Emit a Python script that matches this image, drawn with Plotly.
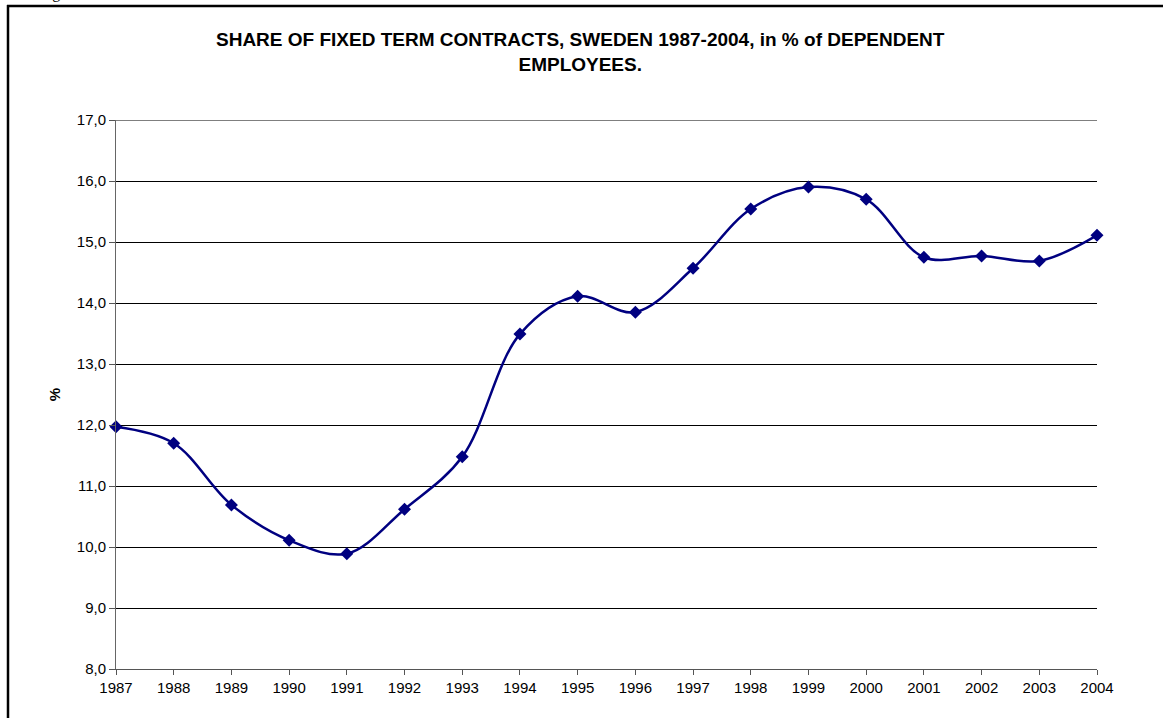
import plotly.graph_objects as go

years = list(range(1987, 2005))
share = [11.97, 11.70, 10.69, 10.11, 9.89, 10.62, 11.48, 13.49, 14.11, 13.85,
         14.57, 15.54, 15.90, 15.70, 14.75, 14.77, 14.69, 15.11]
tick_labels = [str(y) for y in years]
title_text = "SHARE OF FIXED TERM CONTRACTS, SWEDEN 1987-2004, in % of DEPENDENT<br>EMPLOYEES."

W, H = 1163, 718
L, R, T, B = 116, 1097, 120, 669


def px(x):
    return (x - L) / (R - L)


def py(y):
    return (B - y) / (B - T)


fig = go.Figure()
fig.add_trace(go.Scatter(
    x=years, y=share, mode="lines+markers",
    line=dict(color="#000080", width=2.5, shape="spline", smoothing=1),
    marker=dict(symbol="diamond", size=10, color="#000080"),
    cliponaxis=False, showlegend=False,
))

fig.update_layout(
    width=W, height=H,
    margin=dict(l=L, r=W - R, t=T, b=H - B, pad=0),
    paper_bgcolor="white", plot_bgcolor="white",
    separators=",.",
    font=dict(family="Liberation Sans, Arial, sans-serif", size=15, color="black"),
    xaxis=dict(
        range=[1987, 2004], tickmode="array", tickvals=years, ticktext=tick_labels,
        showgrid=False, zeroline=False, showline=True, linecolor="#555555", linewidth=1,
        ticks="outside", ticklen=5, tickcolor="#555555",
        tickfont=dict(size=15, color="black"),
    ),
    yaxis=dict(
        range=[8, 17], dtick=1, tick0=8, tickformat=".1f",
        showgrid=True, gridcolor="black", gridwidth=1,
        zeroline=False, showline=True, linecolor="#666666", linewidth=1,
        ticks="outside", ticklen=6, tickcolor="#555555",
        tickfont=dict(size=15, color="black"),
        title=dict(text="<b>%</b>", font=dict(size=15), standoff=12),
    ),
    annotations=[
        dict(text="<b>" + title_text + "</b>", xref="paper", yref="paper",
             x=px(580), y=py(52), xanchor="center", yanchor="middle",
             showarrow=False, font=dict(size=19, color="black")),
        dict(text="Figure", xref="paper", yref="paper",
             x=px(37), y=py(4), xanchor="left", yanchor="bottom",
             showarrow=False,
             font=dict(family="Liberation Serif, Times New Roman, serif", size=16, color="black")),
    ],
    shapes=[
        dict(type="line", xref="paper", yref="y",
             x0=0, x1=1, y0=17, y1=17,
             line=dict(color="black", width=1)),
        dict(type="line", xref="paper", yref="paper",
             x0=px(8), x1=px(8), y0=py(5), y1=py(720),
             line=dict(color="black", width=2.5)),
        dict(type="line", xref="paper", yref="paper",
             x0=px(7), x1=px(1165), y0=py(6), y1=py(6),
             line=dict(color="black", width=2.5)),
    ],
)

fig.write_html("out.html", config={"displayModeBar": False},
               post_script="document.body.style.margin='0';")
